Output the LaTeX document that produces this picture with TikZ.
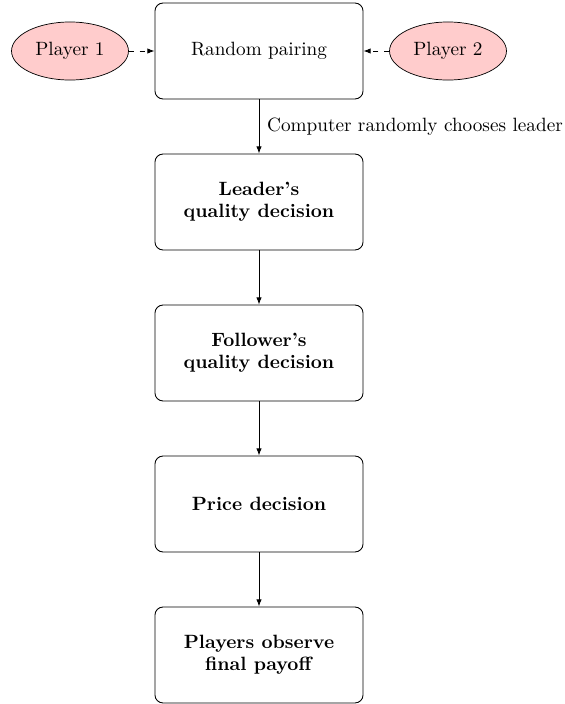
\documentclass[tikz,border=0pt]{standalone}
\usetikzlibrary{shapes.geometric,arrows.meta}
\begin{document}
\begin{tikzpicture}[x=0.5618pt,y=-0.5618pt,
  font=\fontsize{10.8}{12.2}\selectfont,
  stepbox/.style={draw,rounded corners=4.5pt,minimum width=116.9pt,minimum height=53.9pt,align=center,line width=0.5pt},
  player/.style={draw,ellipse,fill=red!20,minimum width=65.7pt,minimum height=32.6pt,inner sep=1pt},
  arr/.style={-{Latex[length=4pt,width=3pt]},line width=0.5pt},
  darr/.style={arr,dashed}]
\useasboundingbox (0,0) rectangle (565,704);
\node[stepbox] (rp) at (259,51) {Random pairing};
\node[stepbox] (lq) at (259,202) {\textbf{Leader's}\\\textbf{quality decision}};
\node[stepbox] (fq) at (259,353) {\textbf{Follower's}\\\textbf{quality decision}};
\node[stepbox] (pd) at (259,504) {\textbf{Price decision}};
\node[stepbox] (po) at (259,655) {\textbf{Players observe}\\\textbf{final payoff}};
\node[player] (p1) at (70,51) {Player 1};
\node[player] (p2) at (448,51) {Player 2};
\draw[darr] (p1) -- (rp);
\draw[darr] (p2) -- (rp);
\draw[arr] (rp) -- node[right,xshift=1pt] {Computer randomly chooses leader} (lq);
\draw[arr] (lq) -- (fq);
\draw[arr] (fq) -- (pd);
\draw[arr] (pd) -- (po);
\end{tikzpicture}
\end{document}
